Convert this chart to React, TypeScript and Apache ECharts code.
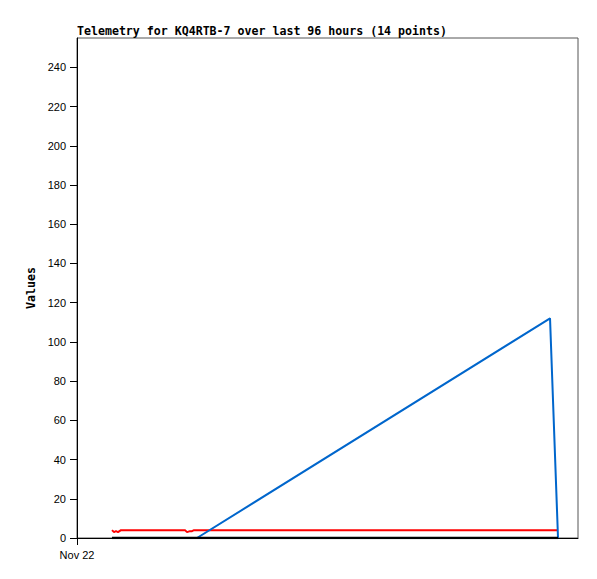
import React, { useEffect, useRef } from "react";
import * as echarts from "echarts";

// hours since Nov 22 00:00
const hours = [6.71, 7.09, 7.47, 7.86, 8.43, 8.81, 20.7, 21.08, 21.65, 22.04, 22.42, 22.99, 90.64, 92.17];
const redValues = [4, 3, 3.5, 3, 4, 4, 4, 3, 3.5, 3.5, 4, 4, 4, 4];
const blueValues = [0, 0, 0, 0, 0, 0, 0, 0, 0, 0, 0, 0, 112, 0];
const blackValues = [0, 0, 0, 0, 0, 0, 0, 0, 0, 0, 0, 0, 0, 0];
const yTicks = [0, 20, 40, 60, 80, 100, 120, 140, 160, 180, 200, 220, 240];
const xTicks = [0];
const xTickLabels = ["Nov 22"];
const titleText = "Telemetry for KQ4RTB-7 over last 96 hours (14 points)";

export default function App() {
  const ref = useRef<HTMLDivElement>(null);
  useEffect(() => {
    document.body.style.margin = "0";
    const chart = echarts.init(ref.current!, null, { renderer: "svg" });
    const pair = (vals: number[]) => hours.map((h, i) => [h, vals[i]]);
    chart.setOption({
      animation: false,
      backgroundColor: "#ffffff",
      title: {
        text: titleText,
        left: 77,
        top: 25,
        padding: 0,
        textStyle: { fontFamily: "DejaVu Sans Mono", fontWeight: "bold", fontSize: 11.6, color: "#000" },
      },
      grid: {
        left: 77,
        right: 19,
        top: 38,
        bottom: 41,
        show: true,
        borderColor: "#555",
        borderWidth: 1,
        backgroundColor: "transparent",
      },
      xAxis: {
        type: "value",
        min: 0,
        max: 96,
        axisLine: { show: true, lineStyle: { color: "#000", width: 1 } },
        axisTick: { show: true, length: 7, lineStyle: { color: "#000" }, customValues: xTicks },
        axisLabel: {
          customValues: xTicks,
          formatter: (v: number) => xTickLabels[xTicks.indexOf(v)] ?? "",
          fontFamily: "Liberation Sans",
          fontSize: 11,
          color: "#000",
          margin: 11,
        },
        splitLine: { show: false },
      },
      yAxis: {
        type: "value",
        min: 0,
        max: 255,
        name: "Values",
        nameLocation: "middle",
        nameRotate: 90,
        nameGap: 39,
        nameTextStyle: { fontFamily: "DejaVu Sans Mono", fontWeight: "bold", fontSize: 11.6, color: "#000" },
        axisLine: { show: true, lineStyle: { color: "#000", width: 1 } },
        axisTick: { show: true, length: 7, lineStyle: { color: "#000" }, customValues: yTicks },
        axisLabel: {
          customValues: yTicks,
          fontFamily: "Liberation Sans",
          fontSize: 11,
          color: "#000",
          margin: 11,
        },
        splitLine: { show: false },
      },
      series: [
        {
          type: "line",
          data: pair(redValues),
          showSymbol: false,
          lineStyle: { color: "#ff0000", width: 2 },
          itemStyle: { color: "#ff0000" },
        },
        {
          type: "line",
          data: pair(blueValues),
          showSymbol: false,
          lineStyle: { color: "#0066cc", width: 2 },
          itemStyle: { color: "#0066cc" },
        },
        {
          type: "line",
          data: pair(blackValues),
          showSymbol: false,
          lineStyle: { color: "#000000", width: 2.5 },
          itemStyle: { color: "#000000" },
        },
      ],
    });
    return () => chart.dispose();
  }, []);
  return <div ref={ref} style={{ position: "absolute", left: 0, top: 0, width: 597, height: 579 }} />;
}
